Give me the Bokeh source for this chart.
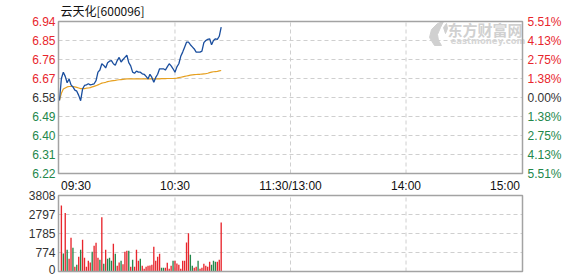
from bokeh.plotting import figure
from bokeh.models import Range1d, ColumnDataSource
from bokeh.core.properties import value
from bokeh.embed import file_html
from bokeh.resources import INLINE

# ---- data -------------------------------------------------------------
stock_title = "云天化[600096]"
prev_close = 6.58

price_ticks = [6.22, 6.31, 6.40, 6.49, 6.58, 6.67, 6.76, 6.85, 6.94]
price_tick_text = ["6.22", "6.31", "6.40", "6.49", "6.58", "6.67", "6.76", "6.85", "6.94"]
pct_tick_text = ["5.51%", "4.13%", "2.75%", "1.38%", "0.00%", "1.38%", "2.75%", "4.13%", "5.51%"]

time_ticks = [0, 60, 120, 180, 240]
time_tick_text = ["09:30", "10:30", "11:30/13:00", "14:00", "15:00"]

vol_max = 3808
vol_ticks = [0, 952, 1904, 2856, 3808]
vol_tick_text = ["0", "774", "1785", "2797", "3808"]

# minute prices from 09:30
price = [
    6.566, 6.670, 6.700, 6.680, 6.650, 6.668, 6.640, 6.630, 6.615, 6.610,
    6.590, 6.565, 6.620, 6.637, 6.640, 6.645, 6.640, 6.642, 6.645, 6.660,
    6.700, 6.710, 6.740, 6.732, 6.720, 6.745, 6.752, 6.755, 6.740, 6.733,
    6.755, 6.770, 6.748, 6.760, 6.770, 6.780, 6.745, 6.730, 6.700, 6.695,
    6.705, 6.700, 6.700, 6.692, 6.690, 6.680, 6.668, 6.690, 6.675, 6.652,
    6.675, 6.690, 6.716, 6.716, 6.716, 6.710, 6.725, 6.740, 6.730, 6.716,
    6.700, 6.725, 6.740, 6.775, 6.795, 6.818, 6.842, 6.842, 6.830, 6.820,
    6.810, 6.795, 6.795, 6.795, 6.800, 6.840, 6.850, 6.855, 6.858, 6.830,
    6.850, 6.858, 6.855, 6.870, 6.913,
]

# running average price
avg_price = [
    6.566, 6.600, 6.620, 6.625, 6.630, 6.632, 6.632, 6.632, 6.630, 6.628,
    6.625, 6.622, 6.622, 6.622, 6.624, 6.625, 6.627, 6.630, 6.633, 6.636,
    6.640, 6.644, 6.648, 6.650, 6.652, 6.655, 6.657, 6.659, 6.660, 6.661,
    6.663, 6.664, 6.665, 6.666, 6.667, 6.668, 6.668, 6.668, 6.668, 6.668,
    6.668, 6.668, 6.668, 6.668, 6.668, 6.668, 6.668, 6.668, 6.668, 6.668,
    6.668, 6.668, 6.668, 6.669, 6.669, 6.669, 6.670, 6.670, 6.670, 6.670,
    6.671, 6.672, 6.674, 6.676, 6.678, 6.680, 6.682, 6.684, 6.686, 6.687,
    6.688, 6.689, 6.690, 6.690, 6.691, 6.692, 6.693, 6.695, 6.698, 6.700,
    6.702, 6.703, 6.704, 6.706, 6.708,
]

# per-minute volume (lots) and direction (1 = up / red, 0 = down / green)
volume = [
    3305, 906, 2936, 1090, 637, 1694, 1191, 235, 336, 738,
    1090, 1594, 688, 235, 537, 453, 990, 1292, 1443, 688,
    587, 2718, 386, 1090, 637, 688, 537, 1392, 889, 285,
    450, 537, 369, 990, 1040, 1040, 235, 587, 235, 1090,
    537, 637, 285, 134, 235, 285, 300, 336, 1241, 537,
    738, 889, 185, 185, 185, 436, 134, 285, 537, 537,
    400, 336, 134, 537, 537, 1459, 1912, 839, 285, 185,
    235, 537, 134, 185, 386, 285, 235, 486, 336, 537,
    486, 486, 587, 2449,
]
vol_up = [
    1, 0, 1, 0, 1, 1, 0, 1, 0, 1,
    0, 1, 1, 1, 1, 1, 0, 1, 1, 1,
    0, 1, 0, 1, 0, 0, 0, 1, 0, 1,
    1, 0, 1, 1, 1, 0, 1, 0, 1, 1,
    1, 0, 1, 1, 1, 1, 1, 1, 1, 1,
    1, 1, 0, 0, 1, 1, 1, 1, 0, 1,
    1, 1, 1, 1, 1, 1, 1, 0, 0, 1,
    1, 0, 1, 1, 1, 1, 1, 1, 0, 0,
    0, 1, 1, 1,
]

# ---- layout geometry (canvas pixels) ----------------------------------
W, H = 578, 276
LEFT_PX, RIGHT_PX = 58, 522          # trading-day span 09:30 .. 15:00
PRICE_TOP_PX, PRICE_BOT_PX = 21, 173
VOL_TOP_PX, VOL_BOT_PX = 195, 271
X0, X1 = -0.5, 240.5                 # minute span drawn between the frame edges

px_x = (RIGHT_PX - LEFT_PX) / (X1 - X0)
p_lo, p_hi = price_ticks[0], price_ticks[-1]
px_p = (PRICE_BOT_PX - PRICE_TOP_PX) / (p_hi - p_lo)
px_v = (VOL_BOT_PX - VOL_TOP_PX) / vol_max

def fx(px):
    return X0 + (px - LEFT_PX) / px_x

def fp(py):
    return p_hi - (py - PRICE_TOP_PX) / px_p

def fv(py):
    return vol_max - (py - VOL_TOP_PX) / px_v

RED = "#e8262d"
GREEN = "#23874b"
DARK = "#333333"
FRAME = "#a3a3a3"
GRID = "#cfcfcf"
FONT = value("Liberation Sans")

p = figure(width=W, height=H, x_range=Range1d(fx(0), fx(W)), y_range=Range1d(fp(H), fp(0)),
           x_axis_location=None, y_axis_location=None,
           toolbar_location=None, output_backend="svg",
           min_border=0, outline_line_color=None)
p.extra_y_ranges = {"vol": Range1d(fv(H), fv(0))}
p.xgrid.visible = False
p.ygrid.visible = False
p.background_fill_color = "white"
p.border_fill_color = "white"

# ---- dashed grid lines -------------------------------------------------
inner_t = time_ticks[1:-1]
p.segment(x0=[X0] * 7, x1=[X1] * 7, y0=price_ticks[1:-1], y1=price_ticks[1:-1],
          line_color=GRID, line_dash="4 3", line_width=1)
p.segment(x0=inner_t, x1=inner_t, y0=[p_lo] * 3, y1=[p_hi] * 3,
          line_color=GRID, line_dash="4 3", line_width=1)
p.segment(x0=[X0] * 3, x1=[X1] * 3, y0=vol_ticks[1:-1], y1=vol_ticks[1:-1],
          line_color=GRID, line_dash="4 3", line_width=1, y_range_name="vol")
p.segment(x0=inner_t, x1=inner_t, y0=[0] * 3, y1=[vol_max] * 3,
          line_color=GRID, line_dash="4 3", line_width=1, y_range_name="vol")

# ---- watermark ---------------------------------------------------------
mark_c = "#d0d0d0"
swoosh_px = [(434, 45), (429, 37), (431, 29), (437, 23), (443, 21), (440, 27),
             (437, 34), (438, 40), (441, 45)]
p.patch([fx(a) for a, b in swoosh_px], [fp(b) for a, b in swoosh_px],
        fill_color=mark_c, line_color=mark_c)
tail_px = [(443, 27), (446, 23), (447, 28), (445, 33)]
p.patch([fx(a) for a, b in tail_px], [fp(b) for a, b in tail_px],
        fill_color=mark_c, line_color=mark_c)
p.text(x=[fx(447)], y=[fp(28.5)], text=["东方财富网"], text_font=value("Noto Sans CJK SC"),
       text_font_size="15px", text_font_style="bold", text_color=mark_c,
       text_align="left", text_baseline="middle")
p.text(x=[fx(450)], y=[fp(40)], text=["eastmoney.com"], text_font=value("DejaVu Sans"),
       text_font_size="8.5px", text_font_style="bold", text_color="#d6d6d6",
       text_align="left", text_baseline="middle")

# ---- price & average lines ---------------------------------------------
minutes = list(range(len(price)))
p.line(minutes, avg_price, line_color="#e6a020", line_width=1.2)
p.line(minutes, price, line_color="#1a4e9e", line_width=1.3)

# ---- volume bars -------------------------------------------------------
vol_src = ColumnDataSource(dict(
    x=[i + 1 for i in range(len(volume))], top=volume,
    c=[RED if u else GREEN for u in vol_up]))
p.vbar(x="x", top="top", bottom=0, width=0.7, source=vol_src,
       fill_color="c", line_color=None, y_range_name="vol")

# ---- panel frames ------------------------------------------------------
p.quad(left=[X0], right=[X1], bottom=[p_lo], top=[p_hi],
       fill_color=None, line_color=FRAME, line_width=1.5)
p.quad(left=[X0], right=[X1], bottom=[0], top=[vol_max],
       fill_color=None, line_color=FRAME, line_width=1.5, y_range_name="vol")

# ---- tick labels -------------------------------------------------------
def tick_colour(v):
    if abs(v - prev_close) < 1e-9:
        return DARK
    return RED if v > prev_close else GREEN

tick_src = ColumnDataSource(dict(
    y=price_ticks, txt=price_tick_text, pct=pct_tick_text,
    c=[tick_colour(v) for v in price_ticks],
    xl=[fx(LEFT_PX - 3)] * len(price_ticks),
    xr=[fx(RIGHT_PX + 5)] * len(price_ticks)))
p.text(x="xl", y="y", text="txt", text_color="c", source=tick_src,
       text_align="right", text_baseline="middle", text_font=FONT, text_font_size="12px")
p.text(x="xr", y="y", text="pct", text_color="c", source=tick_src,
       text_align="left", text_baseline="middle", text_font=FONT, text_font_size="12px")

# volume labels; the zero label is nudged up so it stays on the canvas
vol_label_y = [fv(VOL_BOT_PX - 2.5)] + vol_ticks[1:]
vol_lab_src = ColumnDataSource(dict(y=vol_label_y, txt=vol_tick_text,
                                    x=[fx(LEFT_PX - 3)] * len(vol_ticks)))
p.text(x="x", y="y", text="txt", source=vol_lab_src, y_range_name="vol",
       text_align="right", text_baseline="middle", text_color=DARK,
       text_font=FONT, text_font_size="12px")

# time labels between the two panels
time_src = ColumnDataSource(dict(
    x=[time_ticks[0] + 0.8] + time_ticks[1:-1] + [time_ticks[-1] - 0.8],
    y=[fp(185)] * len(time_ticks), txt=time_tick_text,
    a=["left", "center", "center", "center", "right"]))
p.text(x="x", y="y", text="txt", text_align="a", source=time_src,
       text_baseline="middle", text_color="#111111", text_font=FONT, text_font_size="12px")

# title
p.text(x=[fx(60)], y=[fp(10)], text=[stock_title], text_align="left",
       text_baseline="middle", text_font=value("Noto Sans CJK SC"),
       text_font_size="12px", text_color="#111111")

open("out.html", "w").write(file_html(p, INLINE))
